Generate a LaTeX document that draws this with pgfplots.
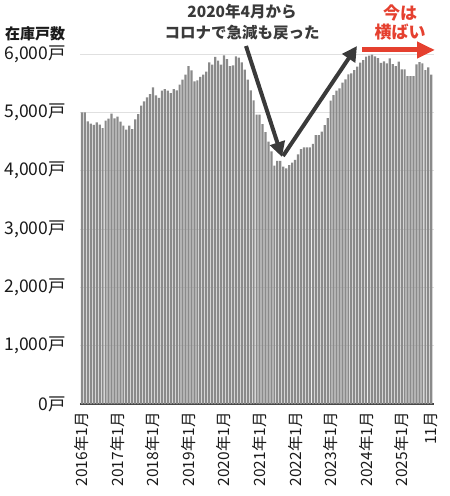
\documentclass[border=0pt]{standalone}
\usepackage{fontspec}
\setmainfont{Noto Sans CJK JP}
\usepackage{pgfplots}
\usepackage{pgfplotstable}
\pgfplotsset{compat=1.18}
\usetikzlibrary{arrows.meta}
\definecolor{bargray}{HTML}{8A8A8A}
\definecolor{arrowgray}{HTML}{3A3A3A}
\definecolor{annred}{HTML}{E5402F}
\definecolor{txt}{HTML}{1A1A1A}
\pgfplotstableread{
i v
0 5000
1 5000
2 4846
3 4806
4 4783
5 4829
6 4789
7 4731
8 4857
9 4891
10 4977
11 4897
12 4926
13 4840
14 4771
15 4703
16 4771
17 4714
18 4880
19 4971
20 5114
21 5189
22 5257
23 5314
24 5429
25 5291
26 5246
27 5371
28 5400
29 5371
30 5331
31 5400
32 5377
33 5474
34 5560
35 5646
36 5794
37 5720
38 5531
39 5549
40 5606
41 5646
42 5697
43 5857
44 5817
45 5949
46 5886
47 5817
48 5977
49 5914
50 5794
51 5806
52 5960
53 5937
54 5857
55 5731
56 5560
57 5377
58 5206
59 4960
60 4960
61 4800
62 4660
63 4500
64 4330
65 4086
66 4166
67 4166
68 4069
69 4040
70 4097
71 4137
72 4183
73 4280
74 4370
75 4400
76 4400
77 4400
78 4460
79 4611
80 4611
81 4668
82 4780
83 4900
84 5200
85 5297
86 5371
87 5411
88 5508
89 5566
90 5651
91 5668
92 5725
93 5782
94 5851
95 5897
96 5954
97 5971
98 5988
99 5960
100 5930
101 5850
102 5874
103 5840
104 5926
105 5828
106 5794
107 5868
108 5737
109 5737
110 5622
111 5622
112 5622
113 5823
114 5862
115 5840
116 5725
117 5771
118 5645
}\stockdata
\begin{document}
\begin{tikzpicture}[x=1pt,y=1pt]
\path[use as bounding box] (0,0) rectangle (450,496);
\begin{axis}[
  at={(80pt,92pt)}, anchor=south west,
  scale only axis, width=353.5pt, height=350pt,
  xmin=-0.65, xmax=118.75, ymin=0, ymax=6000,
  ybar, bar width=2.2pt,
  axis x line*=bottom, axis y line*=left,
  x axis line style={draw=black!75, line width=1.2pt, -},
  y axis line style={draw=none},
  major tick length=0pt,
  ymajorgrids, grid style={draw=black!12, line width=0.9pt},
  ytick={0,1000,2000,3000,4000,5000,6000},
  yticklabels={0戸,{1,000戸},{2,000戸},{3,000戸},{4,000戸},{5,000戸},{6,000戸}},
  yticklabel style={font=\fontsize{17.5}{17.5}\selectfont, text=txt, anchor=east, inner sep=0pt},
  yticklabel shift=14pt,
  xtick={0,12,24,36,48,60,72,84,96,108,118},
  xticklabels={2016年1月,2017年1月,2018年1月,2019年1月,2020年1月,2021年1月,2022年1月,2023年1月,2024年1月,2025年1月,11月},
  xticklabel style={rotate=90, anchor=east, font=\fontsize{15.5}{15.5}\selectfont, text=txt, inner sep=0pt},
  xticklabel shift=8pt,
  clip=false,
]
\addplot[fill=bargray, draw=none] table[x=i,y=v] {\stockdata};
\end{axis}
\node[font=\fontsize{15}{15}\selectfont\bfseries, text=txt, anchor=west, inner sep=0pt] at (5,462) {在庫戸数};
\node[font=\fontsize{15.5}{15.5}\selectfont\bfseries, text=arrowgray, inner sep=0pt] at (242,484) {2020年4月から};
\node[font=\fontsize{15.5}{15.5}\selectfont\bfseries, text=arrowgray, inner sep=0pt] at (242,463) {コロナで急減も戻った};
\node[font=\fontsize{17}{17}\selectfont\bfseries, text=annred, inner sep=0pt] at (400,483.5) {今は};
\node[font=\fontsize{17}{17}\selectfont\bfseries, text=annred, inner sep=0pt] at (400,463.5) {横ばい};
\draw[arrowgray, line width=4pt, -{Triangle[length=15pt,width=15pt]}] (246,450) -- (282,339);
\draw[arrowgray, line width=4pt, -{Triangle[length=15pt,width=15pt]}] (283,340) -- (357,450);
\draw[annred, line width=5pt, -{Triangle[length=18pt,width=16pt]}] (362,446) -- (435,446);
\end{tikzpicture}
\end{document}
